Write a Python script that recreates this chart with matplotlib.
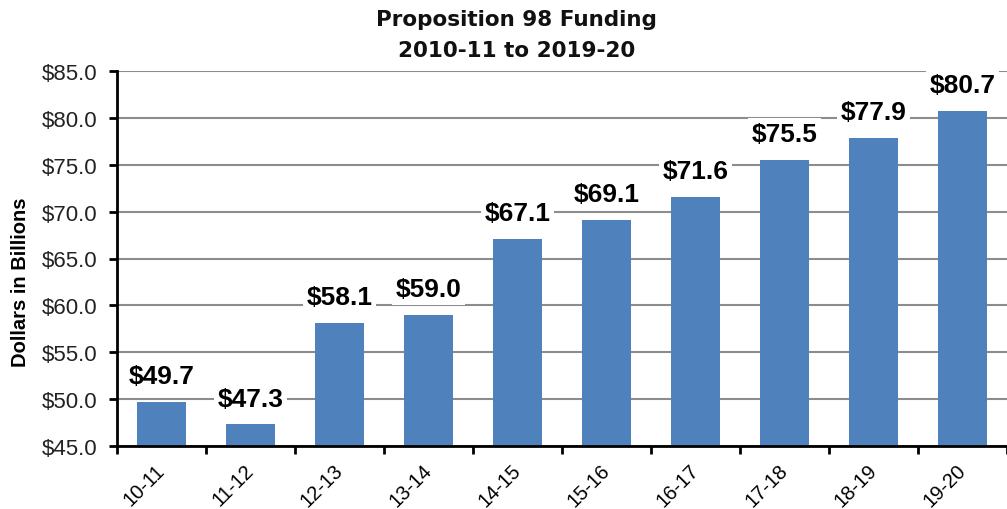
import matplotlib
matplotlib.use("Agg")
import matplotlib.pyplot as plt
import numpy as np

categories = ["10-11", "11-12", "12-13", "13-14", "14-15", "15-16", "16-17", "17-18", "18-19", "19-20"]
values = [49.7, 47.3, 58.1, 59.0, 67.1, 69.1, 71.6, 75.5, 77.9, 80.7]
yticks = [45, 50, 55, 60, 65, 70, 75, 80, 85]

fig = plt.figure(figsize=(10.07, 5.10), dpi=100)
ax = fig.add_axes([117/1007, 1-447/510, 1-117/1007, (447-72)/510])

x = np.arange(len(categories))
ax.bar(x, values, width=0.56, color="#4F81BD", zorder=2)
ax.set_xlim(-0.5, len(categories)-0.5)
ax.set_ylim(45, 85)
ax.set_yticks(yticks)
ax.set_yticklabels([f"${v:.1f}" for v in yticks], fontsize=16, family="Liberation Sans", color="#222222")
ax.yaxis.grid(True, color="#8C8C8C", linewidth=1.5, zorder=0)
ax.set_axisbelow(True)

ax.set_xticks(np.arange(len(categories)+1) - 0.5, minor=False)
ax.set_xticklabels([])
ax.set_xticks(x, minor=True)
ax.set_xticklabels(categories, minor=True, rotation=45, ha="right", va="center",
                   rotation_mode="anchor", fontsize=14.5, family="Liberation Sans")
ax.tick_params(axis="x", which="minor", length=0, pad=15)
ax.tick_params(axis="x", which="major", length=6, width=2, direction="out")
ax.tick_params(axis="y", length=6, width=2, direction="out", pad=8)

for s in ["top", "right"]:
    ax.spines[s].set_visible(False)
for s in ["left", "bottom"]:
    ax.spines[s].set_linewidth(2)
    ax.spines[s].set_color("black")

for xi, v in zip(x, values):
    ax.annotate(f"${v:.1f}", (xi, v), xytext=(0, 10), textcoords="offset points",
                ha="center", va="bottom", fontsize=19, fontweight="bold",
                family="Liberation Sans",
                bbox=dict(boxstyle="square,pad=0.15", fc="white", ec="none"), zorder=3)

fig.text(0.513, 1-20/510, "Proposition 98 Funding", ha="center", va="center",
         fontsize=15.5, fontweight="bold", family="DejaVu Sans", color="#111111")
fig.text(0.513, 1-51/510, "2010-11 to 2019-20", ha="center", va="center",
         fontsize=15.5, fontweight="bold", family="DejaVu Sans", color="#111111")
fig.text(0.02, 1-282/510, "Dollars in Billions", rotation=90, ha="center", va="center",
         fontsize=14.5, fontweight="bold", family="Liberation Sans")

fig.savefig("out.png", dpi=100)
